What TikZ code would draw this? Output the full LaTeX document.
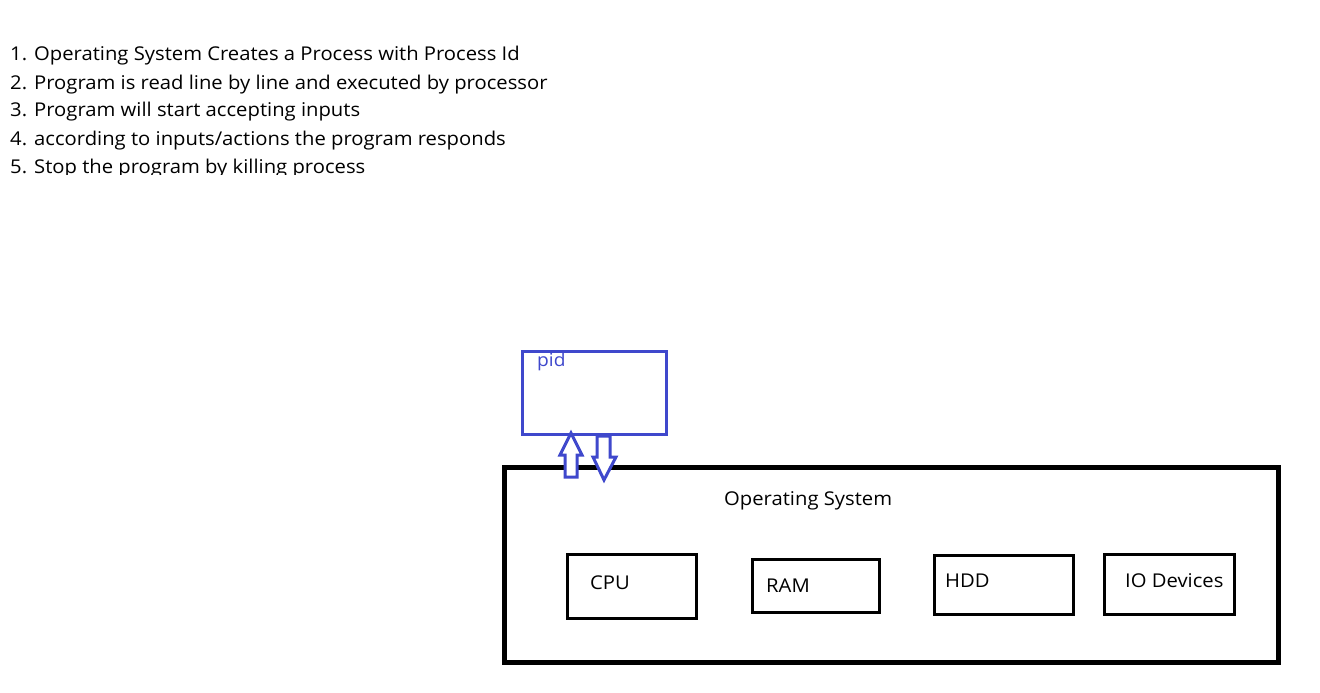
\documentclass[tikz,border=0pt]{standalone}
\usepackage{fontspec}
\setmainfont{Open Sans}[FakeStretch=1.065]
\definecolor{pidblue}{HTML}{3F48CC}
\tikzset{
  txt/.style={anchor=base west, inner sep=0pt, font=\fontsize{19}{19}\selectfont, text=black},
  comp/.style={draw=black, line width=3pt},
  osbox/.style={draw=black, line width=5pt},
  pidbox/.style={draw=pidblue, line width=3pt},
  blockarrow/.style={draw=pidblue, line width=3pt, line join=miter, fill=white}
}
\begin{document}
\begin{tikzpicture}[x=1pt,y=-1pt]
\path[use as bounding box, fill=white] (0,0) rectangle (1320,693);
% step list
\begin{scope}
\clip (0,30) rectangle (600,174.5);
\node[txt] (s1) at (10,61) {1. Operating System Creates a Process with Process Id};
\node[txt] (s2) at (10,89) {2. Program is read line by line and executed by processor};
\node[txt] (s3) at (10,117) {3. Program will start accepting inputs};
\node[txt] (s4) at (10,145) {4. according to inputs/actions the program responds};
\node[txt] (s5) at (10,173) {5. Stop the program by killing process};
\end{scope}
% pid box
\draw[pidbox] (522,351) rectangle (666,434);
\node[txt, text=pidblue, font=\fontsize{18}{18}\selectfont] (pid) at (537,366) {pid};
% OS box
\draw[osbox] (504,467) rectangle (1278,662);
\node[txt] (os) at (724,505) {Operating System};
% components
\draw[comp] (567,554) rectangle (696,618);
\node[txt] (cpu) at (590,589) {CPU};
\draw[comp] (752,559) rectangle (879,612);
\node[txt] (ram) at (766,592) {RAM};
\draw[comp] (934,555) rectangle (1073,614);
\node[txt] (hdd) at (945,587) {HDD};
\draw[comp] (1104,554) rectangle (1234,614);
\node[txt] (io) at (1125,587) {IO Devices};
% block arrows
\draw[blockarrow] (571,433) -- (582,455) -- (577,455) -- (577,477) -- (565,477) -- (565,455) -- (560,455) -- cycle;
\draw[blockarrow] (597,436) -- (610,436) -- (610,457) -- (616,457) -- (604,480) -- (593,457) -- (597,457) -- cycle;
\end{tikzpicture}
\end{document}
